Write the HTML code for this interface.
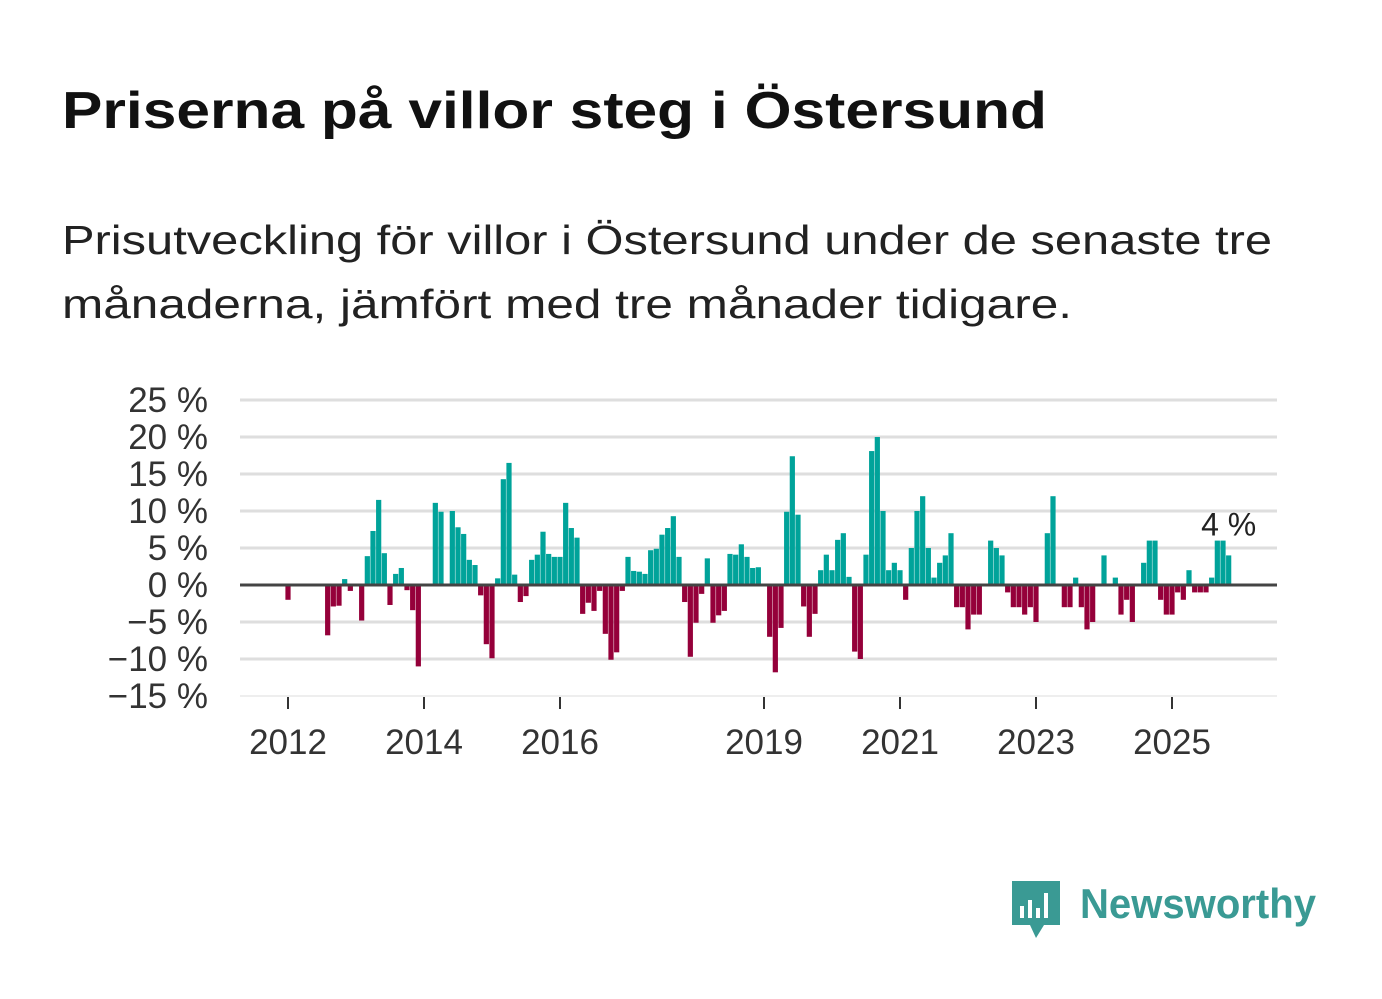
<!DOCTYPE html>
<html><head><meta charset="utf-8"><style>
body{margin:0;background:#fff;}
svg{display:block;font-family:"Liberation Sans","DejaVu Sans",sans-serif;}
</style></head><body>
<svg id="chart" width="1382" height="999" viewBox="0 0 1382 999">
<text x="62" y="128" font-size="52" font-weight="bold" fill="#111" textLength="985" lengthAdjust="spacingAndGlyphs">Priserna på villor steg i Östersund</text>
<text x="62" y="254" font-size="41" fill="#222" textLength="1210" lengthAdjust="spacingAndGlyphs">Prisutveckling för villor i Östersund under de senaste tre</text>
<text x="62" y="318" font-size="41" fill="#222" textLength="1010" lengthAdjust="spacingAndGlyphs">månaderna, jämfört med tre månader tidigare.</text>
<g id="grid"></g><g id="bars"></g><g id="axes"></g>
<g>
<path d="M1012 881 h48 v44 h-16 l-8 13 l-6 -13 h-18 z" fill="#3a9a94"/>
<rect x="1020" y="906" width="4" height="12" fill="#fff"/><rect x="1028" y="900" width="4" height="18" fill="#fff"/><rect x="1036" y="908" width="4" height="10" fill="#fff"/><rect x="1044" y="893" width="4" height="25" fill="#fff"/>
<text x="1080" y="918" font-size="42" font-weight="bold" fill="#3a9a94" textLength="236" lengthAdjust="spacingAndGlyphs">Newsworthy</text>
</g>
</svg>
<script>
// month index 0 = Jan 2012
const monthIdx = [0,7,8,9,10,11,13,14,15,16,17,18,19,20,21,22,23,26,27,29,30,31,32,33,34,35,36,37,38,39,40,41,42,43,44,45,46,47,48,49,50,51,52,53,54,55,56,57,58,59,60,61,62,63,64,65,66,67,68,69,70,71,72,73,74,75,76,77,78,79,80,81,82,83,85,86,87,88,89,90,91,92,93,94,95,96,97,98,99,100,101,102,103,104,105,106,107,108,109,110,111,112,113,114,115,116,117,118,119,120,121,122,124,125,126,127,128,129,130,131,132,134,135,137,138,139,140,141,142,144,146,147,148,149,151,152,153,154,155,156,157,158,159,160,161,162,163,164,165,166];
const values = [-2,-6.8,-2.9,-2.8,0.8,-0.8,-4.8,3.9,7.3,11.5,4.3,-2.7,1.5,2.3,-0.7,-3.4,-11,11.1,9.9,10,7.8,6.9,3.4,2.7,-1.4,-8,-9.9,0.9,14.3,16.5,1.4,-2.3,-1.5,3.4,4.1,7.2,4.2,3.8,3.8,11.1,7.7,6.4,-3.9,-2.4,-3.5,-0.8,-6.6,-10.1,-9.1,-0.8,3.8,1.9,1.8,1.5,4.7,4.9,6.8,7.7,9.3,3.8,-2.3,-9.7,-5.1,-1.2,3.6,-5.1,-4.1,-3.5,4.2,4.1,5.5,3.8,2.3,2.4,-7,-11.8,-5.8,9.9,17.4,9.5,-2.9,-7,-3.9,2,4.1,2,6.1,7,1.1,-9,-10,4.1,18.1,20,10,2,3,2,-2,5,10,12,5,1,3,4,7,-3,-3,-6,-4,-4,6,5,4,-1,-3,-3,-4,-3,-5,7,12,-3,-3,1,-3,-6,-5,4,1,-4,-2,-5,3,6,6,-2,-4,-4,-1,-2,2,-1,-1,-1,1,6,6,4];
const yTicks = [25,20,15,10,5,0,-5,-10,-15];
const xTickYears = [2012,2014,2016,2019,2021,2023,2025];
const lastLabel = "4 %";
const NS="http://www.w3.org/2000/svg";
const x0=240,x1=1277,y0=585,ppv=7.4,ppm=68/12,xJan2012=288;
const X=m=>xJan2012+m*ppm, Y=v=>y0-v*ppv;
function mk(t,a,p){const e=document.createElementNS(NS,t);for(const k in a)e.setAttribute(k,a[k]);p.appendChild(e);return e;}
const grid=document.getElementById('grid'),bars=document.getElementById('bars'),axes=document.getElementById('axes');
yTicks.forEach(v=>{
 if(v!==0){const l=mk('line',{x1:x0,x2:x1,y1:Y(v),y2:Y(v),stroke:v===-15?'#e8e8e8':'#dedede','stroke-width':v===-15?1.5:3},grid);
 
 }
 const t=mk('text',{x:208,y:Y(v)+12,'font-size':35,fill:'#333','text-anchor':'end'},axes);
 t.textContent=(v<0?'\u2212'+(-v):v)+' %';
 
 
});
values.forEach((v,i)=>{
 const cx=X(monthIdx[i]);
 const r=mk('rect',{x:cx-2.6,width:5.2,y:v>=0?Y(v):y0,height:Math.abs(v*ppv),fill:v>=0?'#00a39a':'#95003a'},bars);
 
 
});
const z=mk('line',{x1:x0,x2:x1,y1:y0,y2:y0,stroke:'#444','stroke-width':3},axes);


xTickYears.forEach(yr=>{
 const x=X((yr-2012)*12);
 const tk=mk('line',{x1:x,x2:x,y1:697,y2:709,stroke:'#333','stroke-width':2},axes);
 
 
 const t=mk('text',{x:x,y:754,'font-size':35,fill:'#333','text-anchor':'middle'},axes);
 t.textContent=yr;
 
 
});
const li=values.length-1;
const lt=mk('text',{x:X(monthIdx[li]),y:Y(values[li])-20,'font-size':32,fill:'#222','text-anchor':'middle'},axes);
lt.textContent=lastLabel;


</script>
</body></html>
